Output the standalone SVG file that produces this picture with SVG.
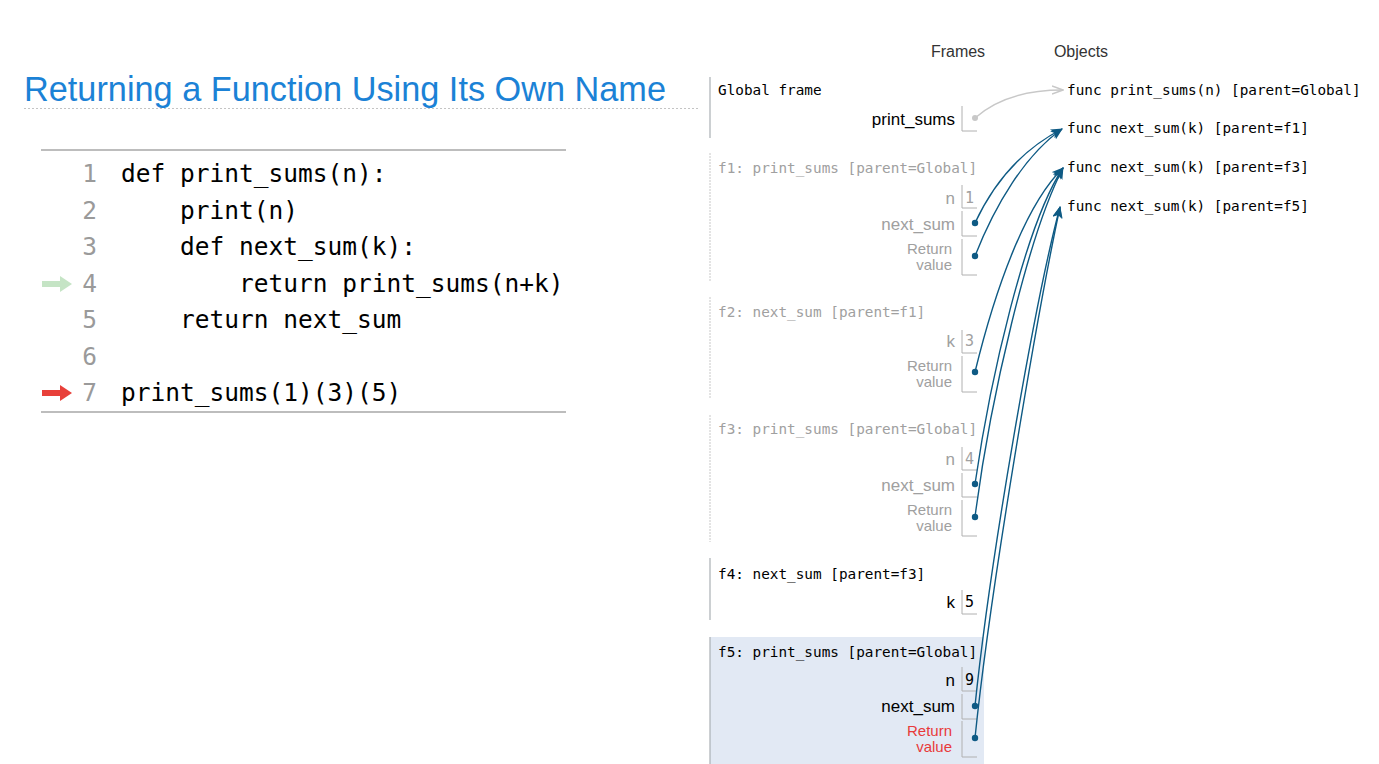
<svg xmlns="http://www.w3.org/2000/svg" width="1379" height="764" viewBox="0 0 1379 764">
<style>
.title{font-family:"Liberation Sans",Arial,sans-serif;font-size:35px;fill:#1b82d6}
.code{font-family:"DejaVu Sans Mono",monospace;font-size:24.5px;fill:#000}
.ln{font-family:"DejaVu Sans Mono",monospace;font-size:24.5px;fill:#9a9a9a;text-anchor:end}
.hdr{font-family:"Liberation Sans",Arial,sans-serif;font-size:16px;fill:#333;text-anchor:middle}
.mono{font-family:"DejaVu Sans Mono",monospace;font-size:14.35px;fill:#000}
.monog{font-family:"DejaVu Sans Mono",monospace;font-size:14.35px;fill:#a0a0a0}
.var{font-family:"Liberation Sans",Arial,sans-serif;font-size:17px;fill:#000;text-anchor:end}
.varg{font-family:"Liberation Sans",Arial,sans-serif;font-size:17px;fill:#a0a0a0;text-anchor:end}
.varr{font-family:"Liberation Sans",Arial,sans-serif;font-size:15px;fill:#e83a3a;text-anchor:end}
.rvg{font-family:"Liberation Sans",Arial,sans-serif;font-size:15px;fill:#a0a0a0;text-anchor:end}
.val{font-family:"DejaVu Sans Mono",monospace;font-size:15px;fill:#000}
.valg{font-family:"DejaVu Sans Mono",monospace;font-size:15px;fill:#a0a0a0}
.box{fill:none;stroke:#b0b0b0;stroke-width:1}
.fb{stroke:#aab0b4;stroke-width:1.2}
.fbd{stroke:#c8c8c8;stroke-width:1;stroke-dasharray:2 1}
.ptr{fill:none;stroke:#0e5a84;stroke-width:1.4}
.dot{fill:#0e5a84}
</style>
<defs>
<marker id="ah" markerWidth="12" markerHeight="10" refX="11" refY="5" orient="auto" markerUnits="userSpaceOnUse">
<path d="M0,0 L12,5 L0,10 L3,5 Z" fill="#0e5a84"/>
</marker>
<marker id="ahg" markerWidth="12" markerHeight="10" refX="11" refY="5" orient="auto" markerUnits="userSpaceOnUse">
<path d="M0,1 L11,5 L0,9" fill="none" stroke="#c8c8c8" stroke-width="1.4"/>
</marker>
</defs>
<rect width="1379" height="764" fill="#fff"/>

<g id="title">
<text class="title" x="24" y="101" textLength="642" lengthAdjust="spacingAndGlyphs">Returning a Function Using Its Own Name</text>
<line x1="24" y1="108.5" x2="700" y2="108.5" stroke="#c4c4c4" stroke-width="1" stroke-dasharray="2 2"/>
</g>

<g id="code">
<line x1="41" y1="150" x2="566" y2="150" stroke="#bdbdbd" stroke-width="2"/>
<line x1="41" y1="412" x2="566" y2="412" stroke="#bdbdbd" stroke-width="2"/>
<text class="ln" x="97" y="182">1</text>
<text class="ln" x="97" y="218.5">2</text>
<text class="ln" x="97" y="255">3</text>
<text class="ln" x="97" y="291.5">4</text>
<text class="ln" x="97" y="328">5</text>
<text class="ln" x="97" y="364.5">6</text>
<text class="ln" x="97" y="401">7</text>
<text class="code" x="121" y="182" xml:space="preserve">def print_sums(n):</text>
<text class="code" x="121" y="218.5" xml:space="preserve">    print(n)</text>
<text class="code" x="121" y="255" xml:space="preserve">    def next_sum(k):</text>
<text class="code" x="121" y="291.5" xml:space="preserve">        return print_sums(n+k)</text>
<text class="code" x="121" y="328" xml:space="preserve">    return next_sum</text>
<text class="code" x="121" y="401" xml:space="preserve">print_sums(1)(3)(5)</text>
<path d="M42,281 L60,281 L60,276 L72,284 L60,292 L60,287 L42,287 Z" fill="#c5e4c5"/>
<path d="M42,390 L60,390 L60,385 L72,393 L60,401 L60,396 L42,396 Z" fill="#e8403a"/>
</g>

<text class="hdr" x="958" y="57">Frames</text>
<text class="hdr" x="1081" y="57">Objects</text>

<g id="global-frame">
<line class="fb" x1="710" y1="77" x2="710" y2="138"/>
<text class="mono" x="718" y="95">Global frame</text>
<text class="var" x="955" y="125">print_sums</text>
<path class="box" d="M962,106 V131 H977"/>
</g>

<g id="f1">
<line class="fbd" x1="710" y1="153" x2="710" y2="281"/>
<text class="monog" x="718" y="173">f1: print_sums [parent=Global]</text>
<text class="varg" x="955" y="204">n</text>
<path class="box" d="M962,185 V208 H977"/>
<text class="valg" x="965" y="203">1</text>
<text class="varg" x="955" y="230">next_sum</text>
<path class="box" d="M962,211 V236 H977"/>
<text class="rvg" x="952" y="254">Return</text>
<text class="rvg" x="952" y="270">value</text>
<path class="box" d="M962,239 V275 H977"/>
</g>

<g id="f2">
<line class="fbd" x1="710" y1="297" x2="710" y2="398"/>
<text class="monog" x="718" y="317">f2: next_sum [parent=f1]</text>
<text class="varg" x="955" y="347">k</text>
<path class="box" d="M962,330 V353 H977"/>
<text class="valg" x="965" y="346">3</text>
<text class="rvg" x="952" y="371">Return</text>
<text class="rvg" x="952" y="387">value</text>
<path class="box" d="M962,356 V392 H977"/>
</g>

<g id="f3">
<line class="fbd" x1="710" y1="415" x2="710" y2="542"/>
<text class="monog" x="718" y="434">f3: print_sums [parent=Global]</text>
<text class="varg" x="955" y="465">n</text>
<path class="box" d="M962,447 V470 H977"/>
<text class="valg" x="965" y="464">4</text>
<text class="varg" x="955" y="491">next_sum</text>
<path class="box" d="M962,473 V497 H977"/>
<text class="rvg" x="952" y="515">Return</text>
<text class="rvg" x="952" y="531">value</text>
<path class="box" d="M962,500 V536 H977"/>
</g>

<g id="f4">
<line class="fb" x1="710" y1="558" x2="710" y2="620"/>
<text class="mono" x="718" y="579">f4: next_sum [parent=f3]</text>
<text class="var" x="955" y="608">k</text>
<path class="box" d="M962,590 V614 H977"/>
<text class="val" x="965" y="607">5</text>
</g>

<g id="f5">
<rect x="710" y="637" width="274" height="127" fill="#e2e9f4"/>
<line class="fb" x1="710" y1="637" x2="710" y2="764"/>
<text class="mono" x="718" y="657">f5: print_sums [parent=Global]</text>
<text class="var" x="955" y="686">n</text>
<path class="box" d="M962,667 V691 H977"/>
<text class="val" x="965" y="685">9</text>
<text class="var" x="955" y="712">next_sum</text>
<path class="box" d="M962,694 V719 H977"/>
<text class="varr" x="952" y="736">Return</text>
<text class="varr" x="952" y="752">value</text>
<path class="box" d="M962,721 V757 H977"/>
</g>

<g id="objects">
<text class="mono" x="1067" y="95">func print_sums(n) [parent=Global]</text>
<text class="mono" x="1067" y="133">func next_sum(k) [parent=f1]</text>
<text class="mono" x="1067" y="172">func next_sum(k) [parent=f3]</text>
<text class="mono" x="1067" y="211">func next_sum(k) [parent=f5]</text>
</g>

<g id="connectors">
<path d="M975,118 C995,100 1025,90 1063,90" fill="none" stroke="#c8c8c8" stroke-width="1.4" marker-end="url(#ahg)"/>
<circle cx="975" cy="118" r="3" fill="#c8c8c8"/>
<path class="ptr" d="M975,223 C995,180 1025,148 1062,129" marker-end="url(#ah)"/>
<path class="ptr" d="M975,256 C995,205 1025,155 1062,129" marker-end="url(#ah)"/>
<path class="ptr" d="M975,372 C995,290 1025,205 1063,168" marker-end="url(#ah)"/>
<path class="ptr" d="M975,484 C990,380 1025,225 1063,168" marker-end="url(#ah)"/>
<path class="ptr" d="M975,517 C990,400 1028,235 1063,168" marker-end="url(#ah)"/>
<path class="ptr" d="M975,706 C990,560 1035,300 1060,207" marker-end="url(#ah)"/>
<path class="ptr" d="M975,738 C990,590 1038,310 1060,207" marker-end="url(#ah)"/>
<circle class="dot" cx="975" cy="223" r="3.2"/>
<circle class="dot" cx="975" cy="256" r="3.2"/>
<circle class="dot" cx="975" cy="372" r="3.2"/>
<circle class="dot" cx="975" cy="484" r="3.2"/>
<circle class="dot" cx="975" cy="517" r="3.2"/>
<circle class="dot" cx="975" cy="706" r="3.2"/>
<circle class="dot" cx="975" cy="738" r="3.2"/>
</g>
</svg>
